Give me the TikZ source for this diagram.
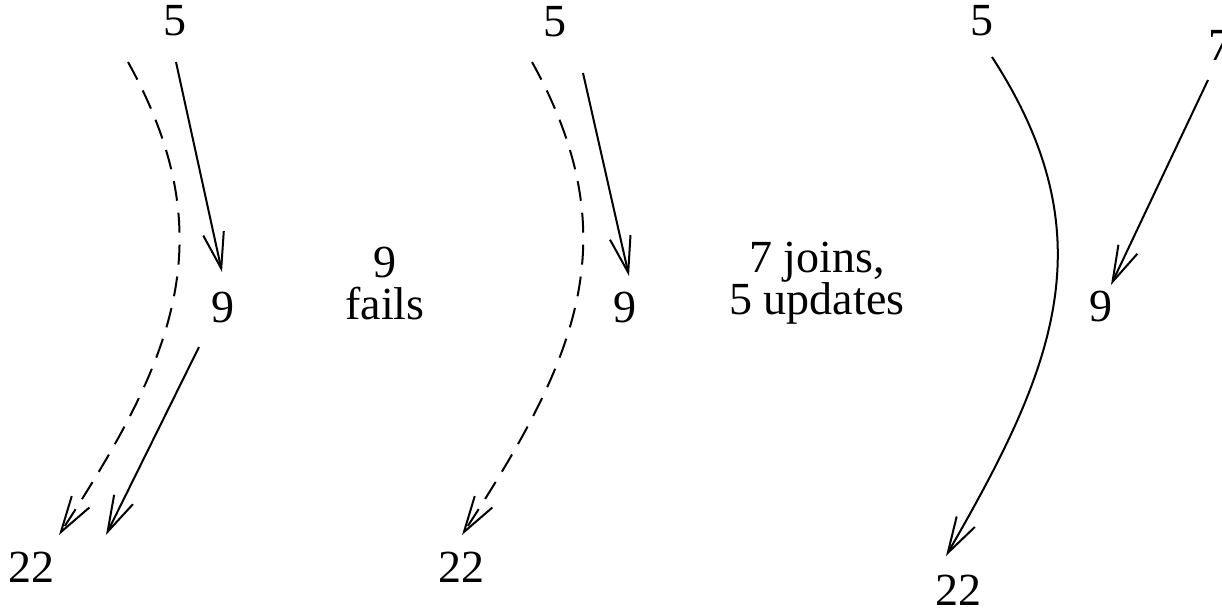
\documentclass[tikz,border=0pt]{standalone}
\usepackage{fontspec}
\setmainfont{Liberation Serif}
\usetikzlibrary{arrows.meta}

\begin{document}
\begin{tikzpicture}[x=0.5pt, y=0.5pt,
    num/.style={font=\fontsize{23}{21}\selectfont, inner sep=0pt},
    note/.style={num, align=center},
    ptr/.style={line width=1pt, -{Straight Barb[length=18pt, width=10.5pt, line width=1pt]}},
    oldptr/.style={ptr, dash pattern=on 10pt off 6pt}]
    \useasboundingbox (0,0) rectangle (1222,612);

    % Step 1: 5 points to 9, 9 points to 22
    \node[num] (fiveA) at (175,591) {5};
    \node[num] (nineA) at (223,305) {9};
    \node[num] (twtA) at (32,45) {22};
    \coordinate (oldA) at (128,550);
    \draw[oldptr] (oldA) to[out=-61, in=57, looseness=1.1] ([shift={(27,32)}]twtA.center);
    \draw[ptr] ([shift={(1,-41)}]fiveA.center) -- ([shift={(-1,35)}]nineA.center);
    \draw[ptr] ([shift={(-24,-40)}]nineA.center) -- ([shift={(74,32)}]twtA.center);

    \node[note] (failA) at (385,329) {9\\fails};

    % Step 2: 9 is gone
    \node[num] (fiveB) at (555,590) {5};
    \node[num] (nineB) at (625,305) {9};
    \node[num] (twtB) at (461,45) {22};
    \coordinate (oldB) at (532,550);
    \draw[oldptr] (oldB) to[out=-61, in=57, looseness=1.1] ([shift={(1,32)}]twtB.center);
    \draw[ptr] ([shift={(28,-51)}]fiveB.center) -- ([shift={(4,31)}]nineB.center);

    \node[note] (joinB) at (817,329) {7 joins,\\5 updates};

    % Step 3: 7 joins
    \node[num] (fiveC) at (982,591) {5};
    \node[num] (sevenC) at (1220,567) {7};
    \node[num] (nineC) at (1101,306) {9};
    \node[num] (twtC) at (958,22) {22};
    \draw[ptr] ([shift={(10,-36)}]fiveC.center) to[out=-57, in=60, looseness=1.1] ([shift={(-12,34)}]twtC.center);
    \draw[ptr] ([shift={(-12,-35)}]sevenC.center) -- ([shift={(10,21)}]nineC.center);
\end{tikzpicture}
\end{document}
